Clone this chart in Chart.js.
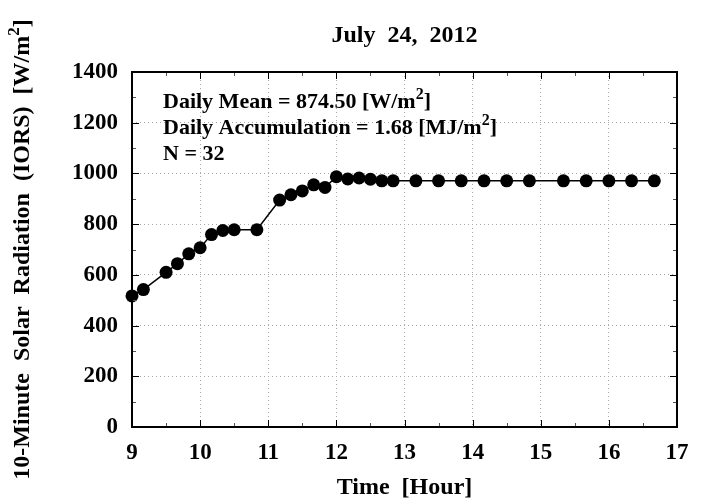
<!DOCTYPE html>
<html>
<head>
<meta charset="utf-8">
<script src="https://cdn.jsdelivr.net/npm/chart.js@4.4.1/dist/chart.umd.min.js"></script>
<style>
  html, body { margin: 0; padding: 0; background: #fff; }
  #wrap { width: 720px; height: 504px; position: relative; }
</style>
</head>
<body>
<div id="wrap"><canvas id="c"></canvas></div>
<script>
// ---- data ----
const hours = [9.000, 9.167, 9.500, 9.667, 9.833, 10.000, 10.167, 10.333, 10.500, 10.833,
               11.167, 11.333, 11.500, 11.667, 11.833, 12.000, 12.167, 12.333, 12.500, 12.667,
               12.833, 13.167, 13.500, 13.833, 14.167, 14.500, 14.833, 15.333, 15.667, 16.000,
               16.333, 16.667];
const radiation = [517, 542, 610, 644, 683, 707, 759, 775, 778, 778,
                   895, 916, 931, 955, 945, 987, 978, 982, 977, 971,
                   971, 971, 971, 971, 971, 971, 971, 971, 971, 971,
                   971, 971];
const xTicks = [9, 10, 11, 12, 13, 14, 15, 16, 17];
const yTicks = [0, 200, 400, 600, 800, 1000, 1200, 1400];
const titleText = 'July  24,  2012';
const xTitle = 'Time  [Hour]';
// pieces: [normal, superscript, normal]
const yTitle = ['10-Minute  Solar  Radiation  (IORS)  [W/m', '2', ']'];
const notes = [
  ['Daily Mean = 874.50 [W/m', '2', ']'],
  ['Daily Accumulation = 1.68 [MJ/m', '2', ']'],
  ['N = 32', '', '']
];

const FONT = 'Liberation Serif';

function drawSup(ctx, pieces, x, y, size, align) {
  const big = 'bold ' + size + 'px "' + FONT + '"';
  const small = 'bold ' + Math.round(size * 0.72) + 'px "' + FONT + '"';
  ctx.font = big; const w0 = ctx.measureText(pieces[0]).width;
  ctx.font = small; const w1 = ctx.measureText(pieces[1]).width;
  ctx.font = big; const w2 = ctx.measureText(pieces[2]).width;
  let sx = x;
  if (align === 'center') sx = x - (w0 + w1 + w2) / 2;
  ctx.textAlign = 'left';
  ctx.textBaseline = 'alphabetic';
  ctx.fillStyle = '#000';
  ctx.font = big; ctx.fillText(pieces[0], sx, y);
  ctx.font = small; ctx.fillText(pieces[1], sx + w0, y - size * 0.42);
  ctx.font = big; ctx.fillText(pieces[2], sx + w0 + w1, y);
}

const decor = {
  id: 'decor',
  afterDraw(chart) {
    const ctx = chart.ctx;
    const xs = chart.scales.x, ys = chart.scales.y;
    const L = xs.left, R = xs.right, T = ys.top, B = ys.bottom;
    ctx.save();
    // inward ticks
    ctx.strokeStyle = '#000';
    ctx.lineWidth = 1;
    ctx.beginPath();
    xTicks.forEach(v => {
      const px = Math.round(xs.getPixelForValue(v)) + 0.5;
      ctx.moveTo(px, B); ctx.lineTo(px, B - 7);
      ctx.moveTo(px, T); ctx.lineTo(px, T + 7);
    });
    yTicks.forEach(v => {
      const py = Math.round(ys.getPixelForValue(v)) + 0.5;
      ctx.moveTo(L, py); ctx.lineTo(L + 7, py);
      ctx.moveTo(R, py); ctx.lineTo(R - 7, py);
    });
    ctx.stroke();
    ctx.strokeStyle = '#555';
    ctx.beginPath();
    for (let i = 0; i < xTicks.length - 1; i++) {
      const px = Math.round(xs.getPixelForValue((xTicks[i] + xTicks[i + 1]) / 2)) + 0.5;
      ctx.moveTo(px, B); ctx.lineTo(px, B - 4);
      ctx.moveTo(px, T); ctx.lineTo(px, T + 4);
    }
    for (let i = 0; i < yTicks.length - 1; i++) {
      const py = Math.round(ys.getPixelForValue((yTicks[i] + yTicks[i + 1]) / 2)) + 0.5;
      ctx.moveTo(L, py); ctx.lineTo(L + 4, py);
      ctx.moveTo(R, py); ctx.lineTo(R - 4, py);
    }
    ctx.stroke();
    // frame
    ctx.strokeStyle = '#000';
    ctx.lineWidth = 2;
    ctx.strokeRect(L, T, R - L, B - T);

    // texts
    const cx = (L + R) / 2;
    ctx.fillStyle = '#000';
    ctx.textAlign = 'center';
    ctx.textBaseline = 'alphabetic';
    ctx.font = 'bold 24px "' + FONT + '"';
    ctx.fillText(titleText, cx, 42);
    ctx.fillText(xTitle, cx, 494);
    // y title rotated
    ctx.save();
    ctx.translate(29, (T + B) / 2);
    ctx.rotate(-Math.PI / 2);
    drawSup(ctx, yTitle, 0, 0, 24, 'center');
    ctx.restore();
    // annotations
    const nx = L + 31;
    notes.forEach((p, i) => drawSup(ctx, p, nx, 108 + i * 26, 22, 'left'));
    ctx.restore();
  }
};

const points = hours.map((h, i) => ({ x: h, y: radiation[i] }));

new Chart(document.getElementById('c'), {
  type: 'scatter',
  data: {
    datasets: [{
      data: points,
      showLine: true,
      clip: false,
      borderColor: '#000',
      borderWidth: 1.5,
      pointRadius: 6.5,
      pointBackgroundColor: '#000',
      pointBorderWidth: 0,
      pointHoverRadius: 6.5
    }]
  },
  options: {
    responsive: true,
    maintainAspectRatio: false,
    animation: false,
    devicePixelRatio: 1,
    layout: { padding: { top: 72, right: 43, left: 0, bottom: 0 } },
    plugins: { legend: { display: false }, tooltip: { enabled: false } },
    scales: {
      x: {
        type: 'linear', min: 9, max: 17,
        afterFit(s) { s.height = 77; },
        afterBuildTicks(s) { s.ticks = xTicks.map(v => ({ value: v })); },
        ticks: { color: '#000', padding: 12, callback: v => String(v),
                 font: { family: FONT, size: 23, weight: 'bold' } },
        grid: { color: '#a8a8a8', lineWidth: 1, drawTicks: false },
        border: { display: false, dash: [1, 3] }
      },
      y: {
        type: 'linear', min: 0, max: 1400,
        afterFit(s) { s.width = 132; },
        afterBuildTicks(s) { s.ticks = yTicks.map(v => ({ value: v })); },
        ticks: { color: '#000', padding: 14, callback: v => String(v),
                 font: { family: FONT, size: 23, weight: 'bold' } },
        grid: { color: '#a8a8a8', lineWidth: 1, drawTicks: false },
        border: { display: false, dash: [1, 3] }
      }
    }
  },
  plugins: [decor]
});
</script>
</body>
</html>
